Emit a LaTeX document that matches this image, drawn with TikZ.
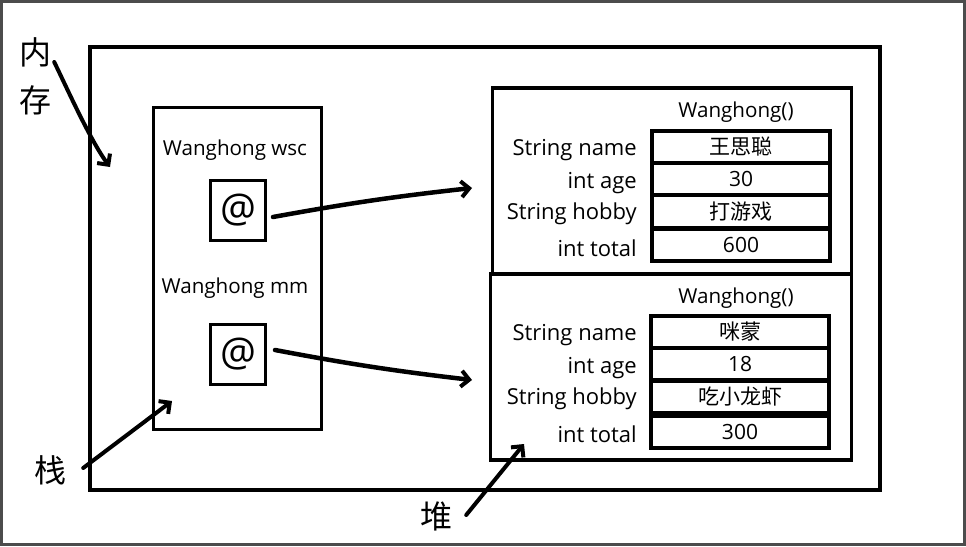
\documentclass[tikz,border=0pt]{standalone}
\usepackage{fontspec}
\setmainfont{Open Sans}
\newfontfamily\cjk{Noto Sans CJK SC}
\usetikzlibrary{arrows.meta}
\tikzset{
  box/.style={draw=black, fill=none, inner sep=0pt},
  cell/.style={draw=black, line width=3.5pt, minimum width=178pt, minimum height=32pt, inner sep=0pt, font=\fontsize{21}{24}\selectfont},
  lbl/.style={anchor=east, inner sep=0pt, yshift=-2.5pt, font=\fontsize{22}{26}\selectfont},
  ttl/.style={inner sep=0pt, yshift=-2.5pt, font=\fontsize{20.6}{24}\selectfont},
  big/.style={inner sep=0pt, font=\cjk\fontsize{32}{36}\selectfont},
  ptr/.style={line width=4.5pt, line cap=round, -{Straight Barb[length=8pt,width=16pt,line width=4pt]}},
  atbox/.style={draw=black, line width=3pt, minimum width=55pt, minimum height=60pt, inner sep=0pt, font=\fontsize{40}{42}\selectfont}
}
\begin{document}
\begin{tikzpicture}[x=1pt,y=-1pt]
\fill[black!70] (0,0) rectangle (966,546);
\fill[white] (3,3) rectangle (963,543);
\useasboundingbox (0,0) rectangle (966,546);
% memory
\node[box, line width=4pt, minimum width=790pt, minimum height=443pt] (mem) at (485,268.5) {};
% stack
\node[box, line width=3pt, minimum width=168pt, minimum height=322pt] (stack) at (237,268) {};
\node[ttl] (n1) at (235,148) {Wanghong wsc};
\node[atbox] (at1) at (238,210) {@};
\node[ttl] (n2) at (235,286) {Wanghong mm};
\node[atbox] (at2) at (238,354) {@};
% heap objects
\node[box, line width=3.5pt, minimum width=359pt, minimum height=186pt] (obj1) at (672,181) {};
\node[box, line width=3.5pt, minimum width=361pt, minimum height=186pt] (obj2) at (671,367) {};
\node[ttl] (t1) at (736,110) {Wanghong()};
\node[ttl] (t2) at (736,296) {Wanghong()};
% table 1
\node[cell] (a1) at (741,147) {\cjk 王思聪};
\node[cell] (a2) at (741,179) {30};
\node[cell] (a3) at (741,211.5) {\cjk 打游戏};
\node[cell] (a4) at (741,245) {600};
\node[lbl] (la1) at (637,148) {String name};
\node[lbl] (la2) at (637,181) {int age};
\node[lbl] (la3) at (637,211) {String hobby};
\node[lbl] (la4) at (637,246) {int total};
% table 2
\node[cell] (b1) at (740,332) {\cjk 咪蒙};
\node[cell] (b2) at (740,364) {18};
\node[cell] (b3) at (740,397) {\cjk 吃小龙虾};
\node[cell] (b4) at (740,432) {300};
\node[lbl] (lb1) at (637,333) {String name};
\node[lbl] (lb2) at (637,366) {int age};
\node[lbl] (lb3) at (637,396) {String hobby};
\node[lbl] (lb4) at (637,432) {int total};
% side labels
\node[big] (nei) at (35,52) {内};
\node[big] (cun) at (35,100) {存};
\node[big] (zhan) at (50,470) {栈};
\node[big] (dui) at (436,516) {堆};
% pointer arrows
\coordinate (e1) at (472,188);
\coordinate (e2) at (472,380);
\draw[ptr] ([xshift=6pt,yshift=-7pt]at1.east) to[bend left=2] (e1);
\draw[ptr] ([xshift=8pt,yshift=4pt]at2.east) to[bend right=2] (e2);
% label arrows
\coordinate (m1) at (110,167);
\coordinate (s1) at (172,401);
\coordinate (d1) at (524,444);
\draw[ptr, line width=4pt] ([xshift=3pt,yshift=-10pt]nei.east) .. controls (66,86) and (90,140) .. (m1);
\draw[ptr, line width=4pt] ([xshift=17pt,yshift=2pt]zhan.east) -- (s1);
\draw[ptr, line width=4pt] ([xshift=14pt,yshift=1pt]dui.east) -- (d1);
\end{tikzpicture}
\end{document}
